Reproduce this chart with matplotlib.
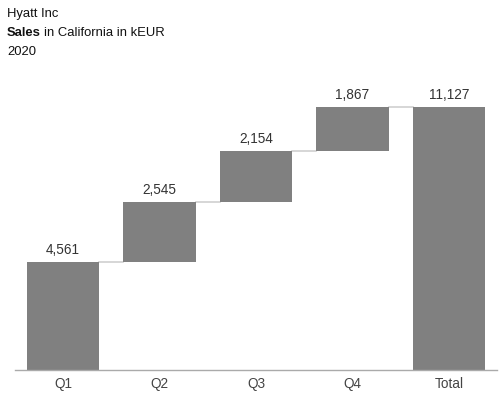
import matplotlib
matplotlib.use("Agg")
import matplotlib.pyplot as plt
import numpy as np

plt.rcParams['font.family'] = ['Liberation Sans', 'DejaVu Sans']

categories = ["Q1", "Q2", "Q3", "Q4", "Total"]
deltas = [4561, 2545, 2154, 1867]
total = sum(deltas)
labels = ["4,561", "2,545", "2,154", "1,867", "11,127"]

fig = plt.figure(figsize=(5.04, 3.95), dpi=100)
ax = fig.add_axes([15/504, 25/395, 482/504, 290/395])

bottoms = list(np.cumsum([0] + deltas[:-1])) + [0]
heights = deltas + [total]
x = np.arange(len(categories))
bw = 0.75
ax.bar(x, heights, bottom=bottoms, width=bw, color="#808080", zorder=2)

tops = [b + h for b, h in zip(bottoms, heights)]
for i in range(len(categories) - 1):
    lvl = tops[i]
    ax.plot([x[i] + bw/2, x[i+1] - bw/2], [lvl, lvl], color="#d0d0d0", lw=1.2, zorder=1)

for i, (t, lab) in enumerate(zip(tops, labels)):
    ax.annotate(lab, (x[i], t), xytext=(0, 3.5), textcoords="offset points",
                ha="center", va="bottom", fontsize=9.8, color="#333333")

ax.set_xlim(-0.5, len(categories) - 0.5)
ax.set_ylim(0, total * 290 / 263)
ax.set_xticks(x)
ax.set_xticklabels(categories, fontsize=9.8, color="#444444")
ax.tick_params(axis="x", length=0, pad=5)
ax.set_yticks([])
for s in ["top", "right", "left"]:
    ax.spines[s].set_visible(False)
ax.spines["bottom"].set_color("#aaaaaa")
ax.spines["bottom"].set_linewidth(1)

fs = 9.4
fig.text(7/504, 1 - 14/395, "Hyatt Inc", fontsize=fs, va="center", ha="left", color="#111111")
t1 = fig.text(7/504, 1 - 33/395, "Sales", fontsize=fs, fontweight="bold", va="center", ha="left", color="#111111")
fig.canvas.draw()
bb = t1.get_window_extent()
fig.text(bb.x1 / 504 + 3/504, 1 - 33/395, "in California in kEUR", fontsize=fs, va="center", ha="left", color="#111111")
fig.text(7/504, 1 - 52/395, "2020", fontsize=fs, va="center", ha="left", color="#111111")

fig.savefig("out.png", dpi=100)
